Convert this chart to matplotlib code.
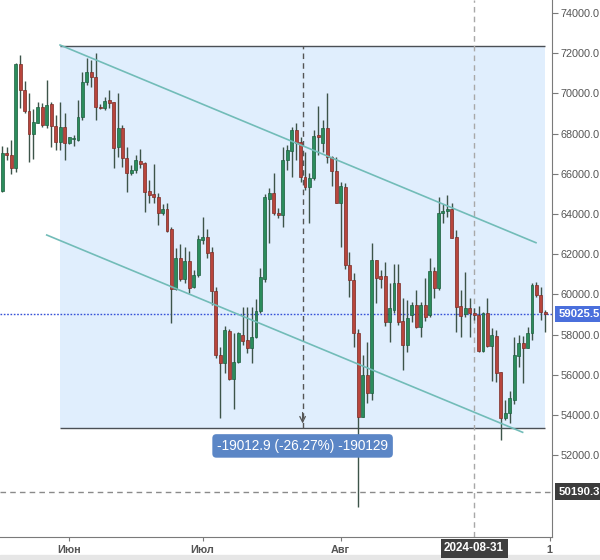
import matplotlib
matplotlib.use("Agg")
import matplotlib.pyplot as plt
import matplotlib.transforms as mtransforms
from matplotlib.patches import Rectangle
import numpy as np
import pandas as pd

plt.rcParams["font.family"] = ["Liberation Sans", "DejaVu Sans"]

# daily candles, 2024-05-17 .. 2024-09-16
dates = pd.date_range("2024-05-17", periods=123, freq="D")
opens = [65163, 67020, 66937, 66274, 71463, 70170, 69142, 67965, 68545, 69308,
         68430, 69457, 68380, 67600, 68346, 67517, 67716, 67683, 68810, 70585,
         71082, 70800, 69340, 69258, 69673, 69557, 67318, 68264, 66771, 66025,
         66191, 66656, 66522, 65163, 64997, 64864, 64069, 64268, 63240, 60255,
         61797, 60753, 61665, 60355, 60968, 62709, 62875, 62128, 60188, 56989,
         56575, 58182, 55779, 56657, 57983, 57735, 57320, 57868, 59194, 60753,
         64732, 65063, 64035, 63952, 66688, 67152, 68180, 67600, 65859, 65361,
         65776, 67931, 67550, 68263, 66820, 66157, 64566, 65361, 61465, 60719,
         58066, 53888, 55994, 55082, 61714, 60918, 60918, 58647, 59244, 60553,
         58697, 57486, 58979, 59476, 58397, 59475, 58977, 61166, 60304, 64034,
         64150, 64233, 62840, 59425, 59027, 59342, 59093, 58977, 57203, 59093,
         57435, 57932, 56159, 53837, 54086, 54749, 56937, 57601, 57319, 58065,
         60470, 59972, 59143]
highs = [67385, 67318, 67683, 71530, 71911, 70618, 70037, 69208, 69590, 69507,
         70668, 69590, 68926, 69557, 69010, 67849, 67932, 69673, 71065, 71745,
         71662, 71994, 69457, 69805, 70170, 69590, 70004, 68430, 67318, 66440,
         66937, 67236, 66605, 65693, 66489, 65030, 64500, 64533, 63372, 62294,
         62510, 62344, 62178, 61217, 62957, 63836, 63240, 62344, 60388, 57403,
         58432, 58265, 58100, 58150, 59393, 59393, 59393, 59758, 61300, 64997,
         65279, 66058, 64300, 67351, 67434, 68346, 68512, 67848, 67102, 66025,
         68180, 69374, 68678, 70037, 66887, 66820, 65610, 65527, 62128, 61050,
         58265, 56989, 57652, 62576, 61714, 61217, 61631, 60553, 61515, 61515,
         59808, 59724, 59641, 60222, 59640, 60800, 61796, 61348, 64830, 64498,
         64946, 64531, 63205, 60221, 61133, 59806, 59308, 59425, 59143, 59806,
         58314, 58231, 56159, 54749, 55214, 57899, 57982, 57932, 58397, 60552,
         60635, 60387, 59225]
lows = [65100, 66688, 65975, 66108, 69258, 69010, 66605, 66738, 68512, 68313,
        68263, 67318, 67186, 67186, 66688, 67467, 67385, 67650, 68678, 70419,
        70336, 68678, 69225, 69175, 69258, 66274, 66854, 66357, 65113, 65942,
        66025, 66300, 64118, 64533, 64533, 63455, 63952, 63123, 58564, 60222,
        60686, 60553, 60056, 60305, 60885, 62510, 61797, 59476, 56823, 53838,
        56077, 55745, 54286, 56575, 57486, 57071, 56575, 57818, 59094, 60637,
        62543, 63952, 63800, 63372, 66190, 65859, 66688, 65610, 65196, 63538,
        65693, 66937, 67102, 66555, 65394, 64532, 62377, 61250, 59890, 57403,
        49445, 53880, 54584, 54750, 59558, 60305, 58431, 57652, 59061, 58481,
        56242, 57154, 58647, 58315, 57866, 58700, 58900, 59806, 60200, 63570,
        63868, 62790, 58148, 57899, 58894, 57899, 58728, 57153, 57153, 57402,
        55711, 55661, 52760, 53754, 53621, 54550, 56407, 55578, 57319, 57733,
        59889, 58728, 58148]
closes = [67020, 66920, 66274, 71463, 70170, 69142, 67965, 68595, 69308, 68430,
          69424, 68380, 67600, 68346, 67550, 67816, 67800, 68810, 70585, 71082,
          70800, 69340, 69275, 69623, 69507, 67270, 68264, 66771, 66025, 66191,
          66688, 66490, 65113, 64947, 64831, 64069, 64234, 63173, 60255, 61797,
          60753, 61665, 60305, 60968, 62742, 62875, 62079, 60188, 56989, 56575,
          58232, 55779, 56657, 58066, 57702, 57320, 57901, 59194, 60852, 64864,
          65030, 64035, 63952, 66688, 67185, 68180, 67550, 65859, 65361, 65809,
          67882, 67815, 68263, 66820, 66157, 64566, 65394, 61465, 60719, 58066,
          53888, 55994, 55082, 61714, 60802, 60785, 58647, 59310, 60553, 58647,
          57486, 58813, 59476, 58398, 59475, 58900, 61166, 60304, 64067, 64150,
          64233, 62790, 59392, 58927, 59342, 59093, 58977, 57203, 59060, 57435,
          57982, 56109, 53837, 54086, 54832, 56987, 57601, 57319, 58065, 60470,
          59972, 59143, 59025.5]

# annotations (bar index, price)
measure_box = [(12.97, 72375.0), (121.96, 53362.1)]
measure_text = "-19012.9 (-26.27%) -190129"
channel_upper = [(12.97, 72408), (119.9, 62572)]
channel_lower = [(9.98, 62955), (116.9, 53140)]
last_price = 59025.5
cross_price = 50190.3
cross_date = "2024-08-31"
month_ticks = {"2024-06-01": "Июн", "2024-07-01": "Июл", "2024-08-01": "Авг"}
price_ticks = np.arange(52000, 74001, 2000)

GREEN, GREEN_EDGE = "#2b8c5c", "#1d5e3e"
RED, RED_EDGE = "#b8453c", "#7b2b25"
WICK = "#3d5449"

fig = plt.figure(figsize=(6.0, 5.6), dpi=100)
fig.patches.append(Rectangle((0, 0), 1, 5 / 560, transform=fig.transFigure,
                             color="#e6e6e6", zorder=-1))
ax = fig.add_axes([0, 23 / 560, 552 / 600, 537 / 560])
ax.set_xlim(-0.52, 123.5)
ax.set_ylim(47931, 74647)

x = np.arange(len(dates))
o, h, l, c = map(np.asarray, (opens, highs, lows, closes))
up = c >= o
day = {d.strftime("%Y-%m-%d"): i for i, d in enumerate(dates)}

# measurement rectangle
(x0, ytop), (x1, ybot) = measure_box
ax.add_patch(Rectangle((x0, ybot), x1 - x0, ytop - ybot, facecolor="#e0eefd",
                       edgecolor="none", zorder=0))
ax.hlines([ytop, ybot], x0, x1, color="#4a4f55", lw=1.0, zorder=1)
xm = (x0 + x1) / 2
ax.vlines(xm, ybot, ytop, color="#555555", lw=1.0, linestyles=(0, (4, 3)), zorder=1)
ax.annotate("", xy=(xm, ybot + 80), xytext=(xm, ybot + 900),
            arrowprops=dict(arrowstyle="->", color="#555555", lw=0.9), zorder=1)

# crosshair / last price lines
ax.axvline(day[cross_date], color="#a8a8a8", lw=1.0, linestyle=(0, (4, 3)), zorder=1)
ax.axhline(cross_price, color="#8a8a8a", lw=1.0, linestyle=(0, (4, 3)), zorder=1)
ax.axhline(last_price, color="#3550d8", lw=1.0, linestyle=(0, (1.2, 1.2)), zorder=1)

# candles
ax.vlines(x, l, h, color=WICK, lw=1.0, zorder=2)
body = np.maximum(np.abs(c - o), 60)
ax.bar(x[up], body[up], 0.66, bottom=np.minimum(o, c)[up], color=GREEN,
       edgecolor=GREEN_EDGE, linewidth=0.5, zorder=3)
ax.bar(x[~up], body[~up], 0.66, bottom=np.minimum(o, c)[~up], color=RED,
       edgecolor=RED_EDGE, linewidth=0.5, zorder=3)

# channel
for (xa, ya), (xb, yb) in (channel_upper, channel_lower):
    ax.plot([xa, xb], [ya, yb], color="#72bcb8", lw=1.2, zorder=4)

ax.text(xm, ybot - 900, measure_text, ha="center", va="center", fontsize=9.8,
        color="white", zorder=6,
        bbox=dict(boxstyle="round,pad=0.35,rounding_size=0.3", fc="#5b86c6", ec="none"))

# axes styling
for s in ("left", "top"):
    ax.spines[s].set_visible(False)
for s in ("right", "bottom"):
    ax.spines[s].set_color("#7a7a7a")
ax.yaxis.tick_right()
ax.set_yticks(price_ticks)
ax.set_yticklabels([f"{v:.1f}" for v in price_ticks])
ax.tick_params(axis="y", colors="#7a7a7a", labelcolor="#555555", labelsize=7.8,
               length=4, pad=2)
xt = [day[d] for d in month_ticks] + [123]
ax.set_xticks(xt)
ax.set_xticklabels(list(month_ticks.values()) + ["1"], fontweight="bold")
ax.tick_params(axis="x", colors="#7a7a7a", labelcolor="#555555", labelsize=7.8,
               length=3, pad=3)

# value tags on the price axis
trans = mtransforms.blended_transform_factory(ax.transAxes, ax.transData)
for val, col in ((last_price, "#4a6fdc"), (cross_price, "#3c3c3c")):
    ax.text(1.012, val, f"{val:.1f}", transform=trans, ha="left", va="center",
            fontsize=8.2, color="white", fontweight="bold", clip_on=False, zorder=7,
            bbox=dict(boxstyle="square,pad=0.3", fc=col, ec="none"))

tx = mtransforms.blended_transform_factory(ax.transData, ax.transAxes)
ax.text(day[cross_date], -0.021, cross_date, transform=tx, ha="center",
        va="center", fontsize=8.4, color="white", fontweight="bold",
        clip_on=False, zorder=7,
        bbox=dict(boxstyle="square,pad=0.3", fc="#3f3f3f", ec="none"))

fig.savefig("out.png", dpi=100)
